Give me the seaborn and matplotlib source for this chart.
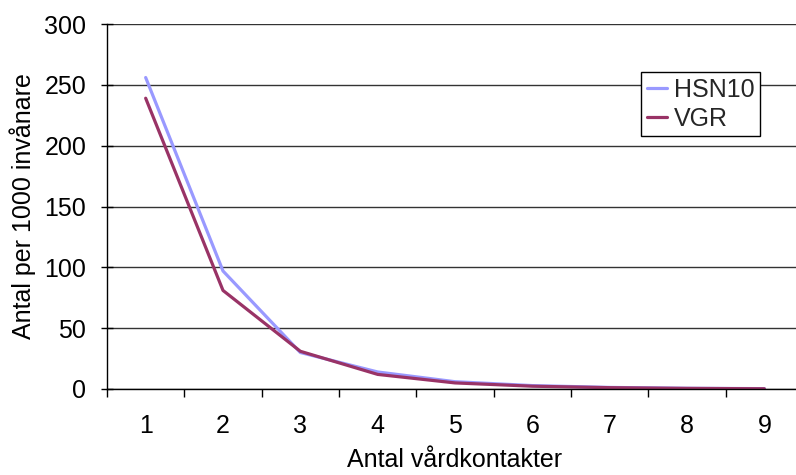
import matplotlib
matplotlib.use("Agg")
import matplotlib.pyplot as plt
import seaborn as sns
import pandas as pd
import numpy as np

categories = ["1", "2", "3", "4", "5", "6", "7", "8", "9"]
hsn10 = [256, 97, 30, 14, 6, 2.8, 1.3, 0.6, 0.3]
vgr = [239, 81, 31, 12, 5, 2.3, 1.1, 0.5, 0.2]
series_names = ["HSN10", "VGR"]
colors = {"HSN10": "#9999FF", "VGR": "#993366"}

df = pd.DataFrame({
    "pos": list(range(len(categories))) * 2,
    "value": hsn10 + vgr,
    "series": [series_names[0]] * len(categories) + [series_names[1]] * len(categories),
})

sns.set_theme(style="white")
plt.rcParams['font.family'] = ['Liberation Sans', 'DejaVu Sans']
FS = 18

fig = plt.figure(figsize=(7.96, 4.75), dpi=100)
ax = fig.add_axes([107/796, 1-389/475, 696/796, 365/475])

sns.lineplot(data=df, x="pos", y="value", hue="series", palette=colors,
             linewidth=2.3, ax=ax, legend=True)

ax.set_xlim(-0.5, len(categories) - 0.5)
ax.set_ylim(0, 300)
ax.set_yticks(np.arange(0, 301, 50))
ax.set_xticks(range(len(categories)))
ax.set_xticklabels(categories)
ax.xaxis.set_minor_locator(matplotlib.ticker.FixedLocator(np.arange(-0.5, len(categories), 1)))
ax.tick_params(axis="x", which="major", length=0, labelsize=FS, pad=18, colors="black")
ax.tick_params(axis="x", which="minor", length=6, width=1, direction="out", color="black", bottom=True)
ax.tick_params(axis="y", which="major", length=8, width=1, direction="inout", labelsize=FS, colors="black", left=True, pad=11)
ax.grid(axis="y", color="#333333", linewidth=1)
ax.set_axisbelow(True)
for s in ["top", "right"]:
    ax.spines[s].set_visible(False)
for s in ["left", "bottom"]:
    ax.spines[s].set_color("black")
    ax.spines[s].set_linewidth(1)

ax.set_xlabel("Antal vårdkontakter", fontsize=FS, color="black", labelpad=7)
ax.set_ylabel("Antal per 1000 invånare", fontsize=FS, color="black", labelpad=6)

leg = ax.legend(loc="upper left", bbox_to_anchor=((641-107)/696, (389-72)/365),
                frameon=True, fancybox=False, fontsize=FS, handlelength=0.8,
                handletextpad=0.28, borderpad=0.22, labelspacing=0.2, borderaxespad=0)
leg.get_frame().set_edgecolor("black")
leg.get_frame().set_linewidth(1)
leg.get_frame().set_facecolor("white")
leg.get_frame().set_alpha(1)

fig.savefig("out.png", dpi=100)
